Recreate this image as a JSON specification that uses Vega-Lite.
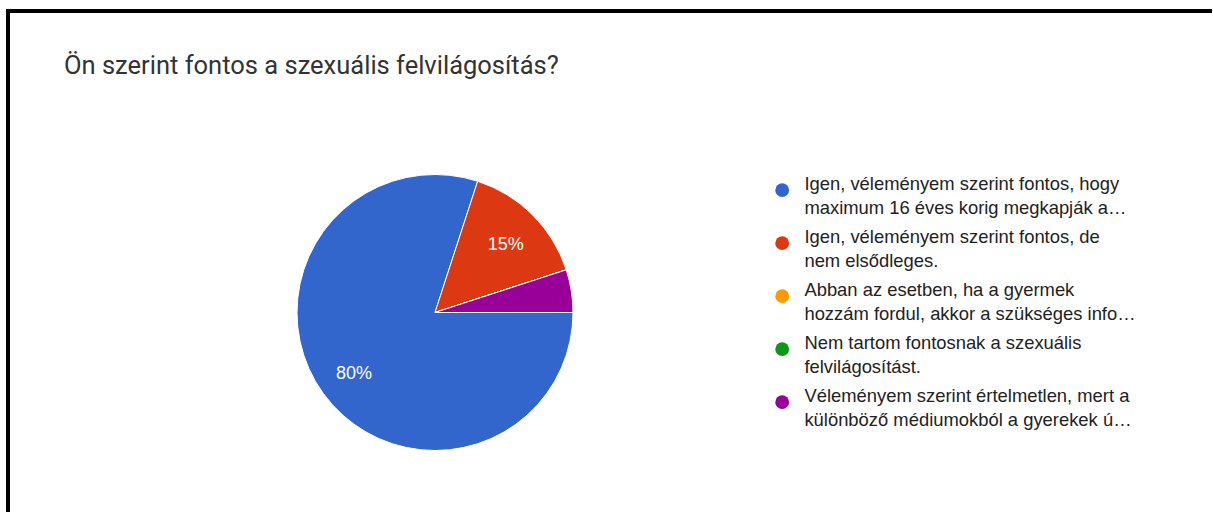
{
  "$schema": "https://vega.github.io/schema/vega-lite/v6.json",
  "usermeta": {"embedOptions": {"actions": false}},
  "background": "white",
  "padding": {"left": 5, "top": 8, "right": 0, "bottom": 0},
  "autosize": {"type": "pad"},
  "config": {"style": {"guide-label": {"lineHeight": 23.5}}},
  "datasets": {
    "answers": [
      {"idx": 1, "answer": "Igen, véleményem szerint fontos, hogy\nmaximum 16 éves korig megkapják a…", "share": 0.80},
      {"idx": 2, "answer": "Igen, véleményem szerint fontos, de\nnem elsődleges.", "share": 0.15},
      {"idx": 3, "answer": "Abban az esetben, ha a gyermek\nhozzám fordul, akkor a szükséges info…", "share": 0},
      {"idx": 4, "answer": "Nem tartom fontosnak a szexuális\nfelvilágosítást.", "share": 0},
      {"idx": 5, "answer": "Véleményem szerint értelmetlen, mert a\nkülönböző médiumokból a gyerekek ú…", "share": 0.05}
    ]
  },
  "spacing": 0,
  "bounds": "flush",
  "vconcat": [
    {
      "width": 1202,
      "height": 104,
      "view": {"stroke": "#000000", "strokeWidth": 4, "strokeCap": "square", "strokeDash": [1202, 1306, 104, 0]},
      "data": {"values": []},
      "mark": "rule",
      "encoding": {}
    },
    {
      "width": 854,
      "height": 395,
      "view": {"stroke": "#000000", "strokeWidth": 4, "strokeCap": "square", "strokeDash": [0, 2103, 395, 0]},
      "title": {
        "text": "Ön szerint fontos a szexuális felvilágosítás?",
        "anchor": "start",
        "frame": "group",
        "orient": "top",
        "offset": 16,
        "baseline": "alphabetic",
        "dx": 56,
        "font": "Roboto",
        "fontSize": 25.5,
        "fontWeight": "normal",
        "color": "#333333"
      },
      "data": {"name": "answers"},
      "layer": [
        {
          "mark": {"type": "arc", "outerRadius": 138, "stroke": "#ffffff", "strokeWidth": 1},
          "encoding": {
            "theta": {"field": "share", "type": "quantitative", "stack": true, "scale": {"domain": [0, 1], "range": [1.5707963, 7.8539816]}},
            "order": {"field": "idx", "type": "quantitative"},
            "color": {
              "field": "answer",
              "type": "nominal",
              "sort": {"field": "idx"},
              "scale": {"range": ["#3366cc", "#dc3912", "#ff9900", "#109618", "#990099"]},
              "legend": {
                "title": null,
                "orient": "none",
                "legendX": 765,
                "legendY": 170,
                "padding": 0,
                "symbolType": "circle",
                "symbolSize": 190,
                "symbolStrokeWidth": 0,
                "labelFont": "Liberation Sans",
                "labelFontSize": 18.4,
                "labelColor": "#222222",
                "labelLimit": 600,
                "labelOffset": 13,
                "labelBaseline": "alphabetic",
                "rowPadding": 10,
                "labelExpr": "split(datum.label, '\\n')",
                "encode": {"labels": {"dy": {"value": 5.5}, "lineHeight": {"value": 23.5}}}
              }
            }
          }
        },
        {
          "transform": [{"filter": "datum.share >= 0.1"}],
          "mark": {"type": "text", "radius": 100, "dy": 3, "fill": "#ffffff", "font": "Liberation Sans", "fontSize": 18},
          "encoding": {
            "theta": {"field": "share", "type": "quantitative", "stack": true},
            "order": {"field": "idx", "type": "quantitative"},
            "detail": {"field": "answer", "type": "nominal"},
            "text": {"field": "share", "type": "quantitative", "format": ".0%"}
          }
        }
      ]
    }
  ]
}
